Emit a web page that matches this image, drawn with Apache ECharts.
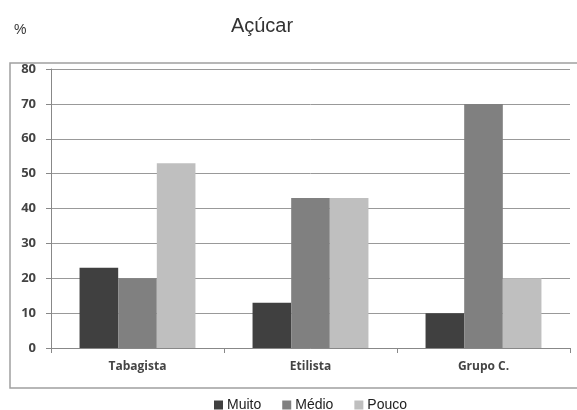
<!DOCTYPE html>
<html>
<head>
<meta charset="utf-8">
<script src="https://cdn.jsdelivr.net/npm/echarts@6/dist/echarts.min.js"></script>
<style>
  html, body { margin: 0; padding: 0; background: #fff; }
  #chart { width: 577px; height: 410px; }
</style>
</head>
<body>
<div id="chart"></div>
<script>
// Categories and values (%)
const categories = ['Tabagista', 'Etilista', 'Grupo C.'];
const muito = [23, 13, 10];
const medio = [20, 43, 70];
const pouco = [53, 43, 20];
const seriesNames = ['Muito', 'Médio', 'Pouco'];
const seriesColors = ['#404040', '#808080', '#bfbfbf'];

const chart = echarts.init(document.getElementById('chart'), null, { renderer: 'canvas' });

const labelFont = { fontFamily: 'Open Sans, Lato, sans-serif', color: '#444', fontWeight: 'bold' };

chart.setOption({
  animation: false,
  backgroundColor: '#fff',
  graphic: [
    { type: 'rect', shape: { x: 10, y: 63, width: 580, height: 325 },
      style: { fill: 'none', stroke: '#a0a0a0', lineWidth: 1.5 }, silent: true, z: -1 },
    { type: 'text', x: 262, y: 16,
      style: { text: 'Açúcar', align: 'center', verticalAlign: 'top',
               font: '20px Liberation Sans, Arial, sans-serif', fill: '#333' } },
    { type: 'text', x: 14, y: 23,
      style: { text: '%', font: '14px Liberation Sans, Arial, sans-serif', fill: '#333' } }
  ],
  legend: {
    data: seriesNames,
    top: 398, left: 214, padding: 0,
    itemWidth: 9, itemHeight: 9, itemGap: 21,
    icon: 'rect',
    textStyle: { fontFamily: 'Liberation Sans, Arial, sans-serif', fontSize: 14, color: '#222', padding: [0, 0, 0, -1] }
  },
  grid: { left: 51, right: 7, top: 69, bottom: 62, containLabel: false },
  xAxis: {
    type: 'category',
    data: categories,
    axisLine: { lineStyle: { color: '#888', width: 1 } },
    axisTick: { show: true, length: 5, alignWithLabel: false, lineStyle: { color: '#888' } },
    axisLabel: Object.assign({ margin: 13, fontSize: 12 }, labelFont)
  },
  yAxis: {
    type: 'value',
    min: 0, max: 80, interval: 10,
    axisLine: { show: true, lineStyle: { color: '#888' } },
    axisTick: { show: true, length: 5, inside: false, lineStyle: { color: '#888' } },
    splitLine: { lineStyle: { color: '#999', width: 1 } },
    axisLabel: Object.assign({ margin: 15, fontSize: 13 }, labelFont)
  },
  series: [
    { name: seriesNames[0], type: 'bar', data: muito, itemStyle: { color: seriesColors[0] }, barGap: '0%', barCategoryGap: '33%' },
    { name: seriesNames[1], type: 'bar', data: medio, itemStyle: { color: seriesColors[1] } },
    { name: seriesNames[2], type: 'bar', data: pouco, itemStyle: { color: seriesColors[2] } }
  ]
});
</script>
</body>
</html>
